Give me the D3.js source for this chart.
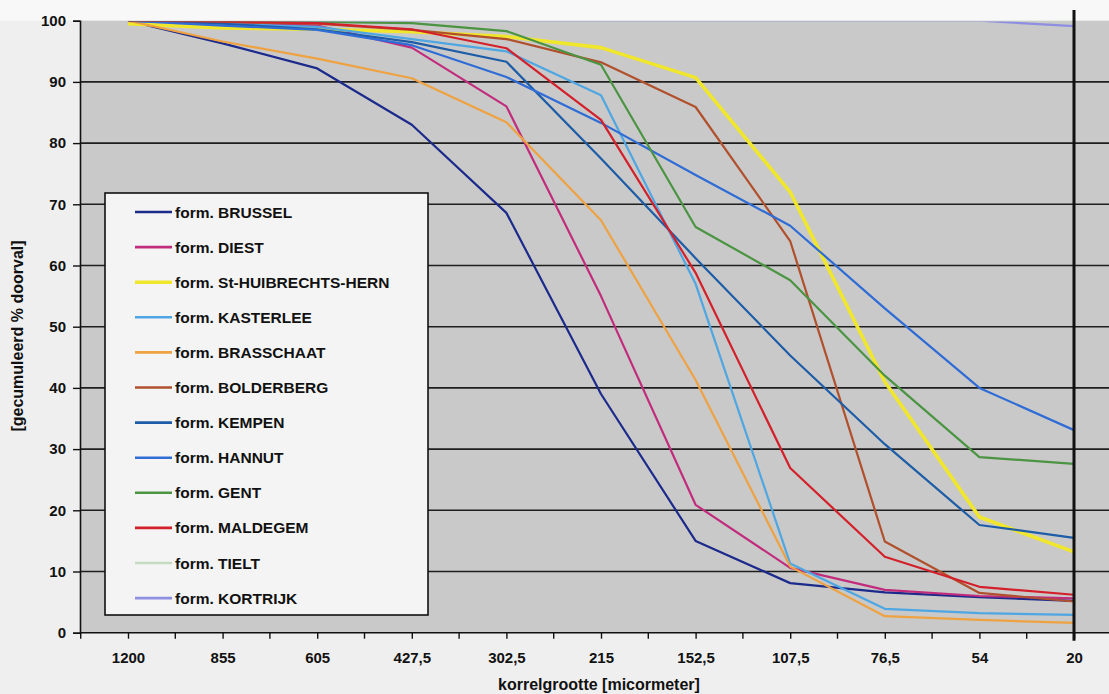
<!DOCTYPE html>
<html>
<head>
<meta charset="utf-8">
<script src="https://cdn.jsdelivr.net/npm/d3@7/dist/d3.min.js"></script>
<style>
  html, body { margin: 0; padding: 0; background: #efefef; }
  svg { display: block; }
  text { font-family: "Liberation Sans", Arial, sans-serif; fill: #111; }
</style>
</head>
<body>
<svg id="chart" width="1109" height="694"></svg>
<script>
// Grain size classes (micrometer), coarse to fine
const categories = ["1200", "855", "605", "427,5", "302,5", "215", "152,5", "107,5", "76,5", "54", "20"];
const yTicks = [0, 10, 20, 30, 40, 50, 60, 70, 80, 90, 100];

// Cumulative passing percentages per formation
const brussel      = [100, 96.3, 92.2, 83.0, 68.6, 39.0, 15.0, 8.1, 6.6, 5.8, 5.2];
const diest        = [100, 99.8, 99.2, 95.6, 86.0, 55.0, 20.9, 10.6, 7.0, 6.0, 5.6];
const stHuibrechts = [99.5, 98.8, 98.6, 98.2, 97.4, 95.6, 90.7, 72.0, 41.0, 18.9, 13.2];
const kasterlee    = [100, 99.5, 99.0, 97.0, 95.0, 87.8, 57.0, 11.3, 3.9, 3.2, 2.9];
const brasschaat   = [100, 96.6, 93.8, 90.6, 83.4, 67.4, 41.3, 10.8, 2.7, 2.1, 1.6];
const bolderberg   = [100, 99.8, 99.5, 98.5, 97.0, 93.2, 85.9, 64.0, 14.9, 6.5, 5.1];
const kempen       = [100, 99.5, 98.6, 96.5, 93.3, 77.5, 61.2, 45.3, 30.8, 17.6, 15.5];
const hannut       = [100, 99.2, 98.5, 96.0, 90.8, 83.3, 74.8, 66.5, 53.0, 40.0, 33.1];
const gent         = [100, 100, 99.8, 99.6, 98.3, 92.8, 66.3, 57.6, 42.0, 28.7, 27.6];
const maldegem     = [100, 99.9, 99.6, 98.6, 95.5, 83.8, 58.8, 26.9, 12.4, 7.5, 6.2];
const tielt        = [100, 100, 100, 100, 100, 100, 100, 100, 100, 100, 100];
const kortrijk     = [100, 100, 100, 100, 100, 100, 100, 100, 100, 100, 99.1];

const seriesNames = [
  "form. BRUSSEL", "form. DIEST", "form. St-HUIBRECHTS-HERN", "form. KASTERLEE",
  "form. BRASSCHAAT", "form. BOLDERBERG", "form. KEMPEN", "form. HANNUT",
  "form. GENT", "form. MALDEGEM", "form. TIELT", "form. KORTRIJK"
];
const seriesValues = [brussel, diest, stHuibrechts, kasterlee, brasschaat, bolderberg,
                      kempen, hannut, gent, maldegem, tielt, kortrijk];
const seriesColors = ["#1c2a8c", "#c22c7c", "#f0e62c", "#4ea6e2", "#eea242", "#b0502c",
                      "#1d5ca6", "#2f6cd6", "#4a9442", "#d4202a", "#c6dcc2", "#8e8ee2"];
const seriesWidths = [2.2, 2.2, 3.6, 2.2, 2.2, 2.2, 2.2, 2.2, 2.2, 2.2, 2.2, 2.2];

const series = seriesNames.map((name, i) => ({
  name, values: seriesValues[i], color: seriesColors[i], width: seriesWidths[i], order: i
}));

const svg = d3.select("#chart");
const W = 1109, H = 694;

// Plot frame
const plot = { left: 80, right: 1112, top: 20.7, bottom: 632.7 };

const x = d3.scalePoint().domain(categories).range([128, 1074]);
const y = d3.scaleLinear().domain([0, 100]).range([plot.bottom, plot.top]);

// Page and plot backgrounds
svg.append("rect").attr("x", 0).attr("y", 0).attr("width", W).attr("height", H).attr("fill", "#efefef");
svg.append("rect").attr("x", 0).attr("y", 0).attr("width", W).attr("height", plot.top).attr("fill", "#f8f8f8");
svg.append("rect")
  .attr("x", plot.left).attr("y", plot.top)
  .attr("width", plot.right - plot.left).attr("height", plot.bottom - plot.top)
  .attr("fill", "#c9c9c9");

svg.append("clipPath").attr("id", "plot-clip")
  .append("rect")
  .attr("x", plot.left).attr("y", plot.top + 0.8)
  .attr("width", plot.right - plot.left).attr("height", plot.bottom - plot.top);

// Horizontal gridlines
svg.append("g").selectAll("line")
  .data(yTicks.filter(d => d > 0 && d < 100))
  .join("line")
  .attr("x1", plot.left).attr("x2", plot.right)
  .attr("y1", d => y(d)).attr("y2", d => y(d))
  .attr("stroke", "#1e1e1e").attr("stroke-width", 1.6);

// Y axis
const yAxis = svg.append("g")
  .attr("transform", `translate(${plot.left},0)`)
  .call(d3.axisLeft(y).tickValues(yTicks).tickSize(7).tickPadding(7).tickFormat(d3.format("d")));
yAxis.select(".domain").attr("stroke", "#111").attr("stroke-width", 1.6);
yAxis.selectAll(".tick line").attr("stroke", "#111").attr("stroke-width", 1.4);
yAxis.selectAll(".tick text")
  .style("font-family", "'Liberation Sans', Arial, sans-serif")
  .style("font-size", "15px").style("font-weight", "bold").attr("fill", "#111");

// X axis: ticks at each class and halfway between classes
const xAxis = svg.append("g")
  .attr("transform", `translate(0,${plot.bottom})`)
  .call(d3.axisBottom(x).tickSize(6).tickPadding(14));
xAxis.select(".domain").remove();
xAxis.selectAll(".tick line").attr("stroke", "#111").attr("stroke-width", 1.4);
xAxis.selectAll(".tick text")
  .style("font-family", "'Liberation Sans', Arial, sans-serif")
  .style("font-size", "15px").style("font-weight", "bold").attr("fill", "#111");
const step = x.step();
const midTicks = categories.map(c => x(c) + step / 2).concat([x(categories[0]) - step / 2]);
xAxis.append("g").selectAll("line")
  .data(midTicks)
  .join("line")
  .attr("x1", d => d).attr("x2", d => d)
  .attr("y1", 0).attr("y2", 6)
  .attr("stroke", "#111").attr("stroke-width", 1.4);
svg.append("line")
  .attr("x1", plot.left).attr("x2", plot.right)
  .attr("y1", plot.bottom).attr("y2", plot.bottom)
  .attr("stroke", "#111").attr("stroke-width", 1.6);

// Curves: the flat 100 % curves go underneath the others
const line = d3.line()
  .x((d, i) => x(categories[i]))
  .y(d => y(d));
const drawOrder = series.slice().sort((a, b) => {
  const fa = d3.min(a.values) > 98 ? 0 : 1;
  const fb = d3.min(b.values) > 98 ? 0 : 1;
  return fa - fb || a.order - b.order;
});

svg.append("g").attr("clip-path", "url(#plot-clip)")
  .selectAll("path")
  .data(drawOrder)
  .join("path")
  .attr("d", s => line(s.values))
  .attr("fill", "none")
  .attr("stroke", s => s.color)
  .attr("stroke-width", s => s.width)
  .attr("stroke-linejoin", "round");

// Vertical axis crossing at the finest class
svg.append("line")
  .attr("x1", x("20")).attr("x2", x("20"))
  .attr("y1", 10).attr("y2", plot.bottom + 8)
  .attr("stroke", "#111").attr("stroke-width", 3);

// Legend
const legend = { x: 105, y: 193, w: 323, h: 422, row0: 212, rowStep: 35.1 };
svg.append("rect")
  .attr("x", legend.x).attr("y", legend.y)
  .attr("width", legend.w).attr("height", legend.h)
  .attr("fill", "#f4f4f4").attr("stroke", "#111").attr("stroke-width", 1.6);
const items = svg.append("g").selectAll("g")
  .data(series)
  .join("g")
  .attr("transform", (s, i) => `translate(0,${legend.row0 + i * legend.rowStep})`);
items.append("line")
  .attr("x1", 135).attr("x2", 172)
  .attr("y1", 0).attr("y2", 0)
  .attr("stroke", s => s.color).attr("stroke-width", s => Math.max(2.6, s.width));
items.append("text")
  .attr("x", 175).attr("y", 0).attr("dy", "0.36em")
  .style("font-size", "15.5px").style("font-weight", "bold")
  .text(s => s.name);

// Axis titles
svg.append("text")
  .attr("transform", "translate(23,336) rotate(-90)")
  .attr("text-anchor", "middle")
  .style("font-size", "16px").style("font-weight", "bold")
  .text("[gecumuleerd % doorval]");
svg.append("text")
  .attr("x", 599).attr("y", 690)
  .attr("text-anchor", "middle")
  .style("font-size", "16px").style("font-weight", "bold")
  .text("korrelgrootte [micormeter]");
</script>
</body>
</html>
